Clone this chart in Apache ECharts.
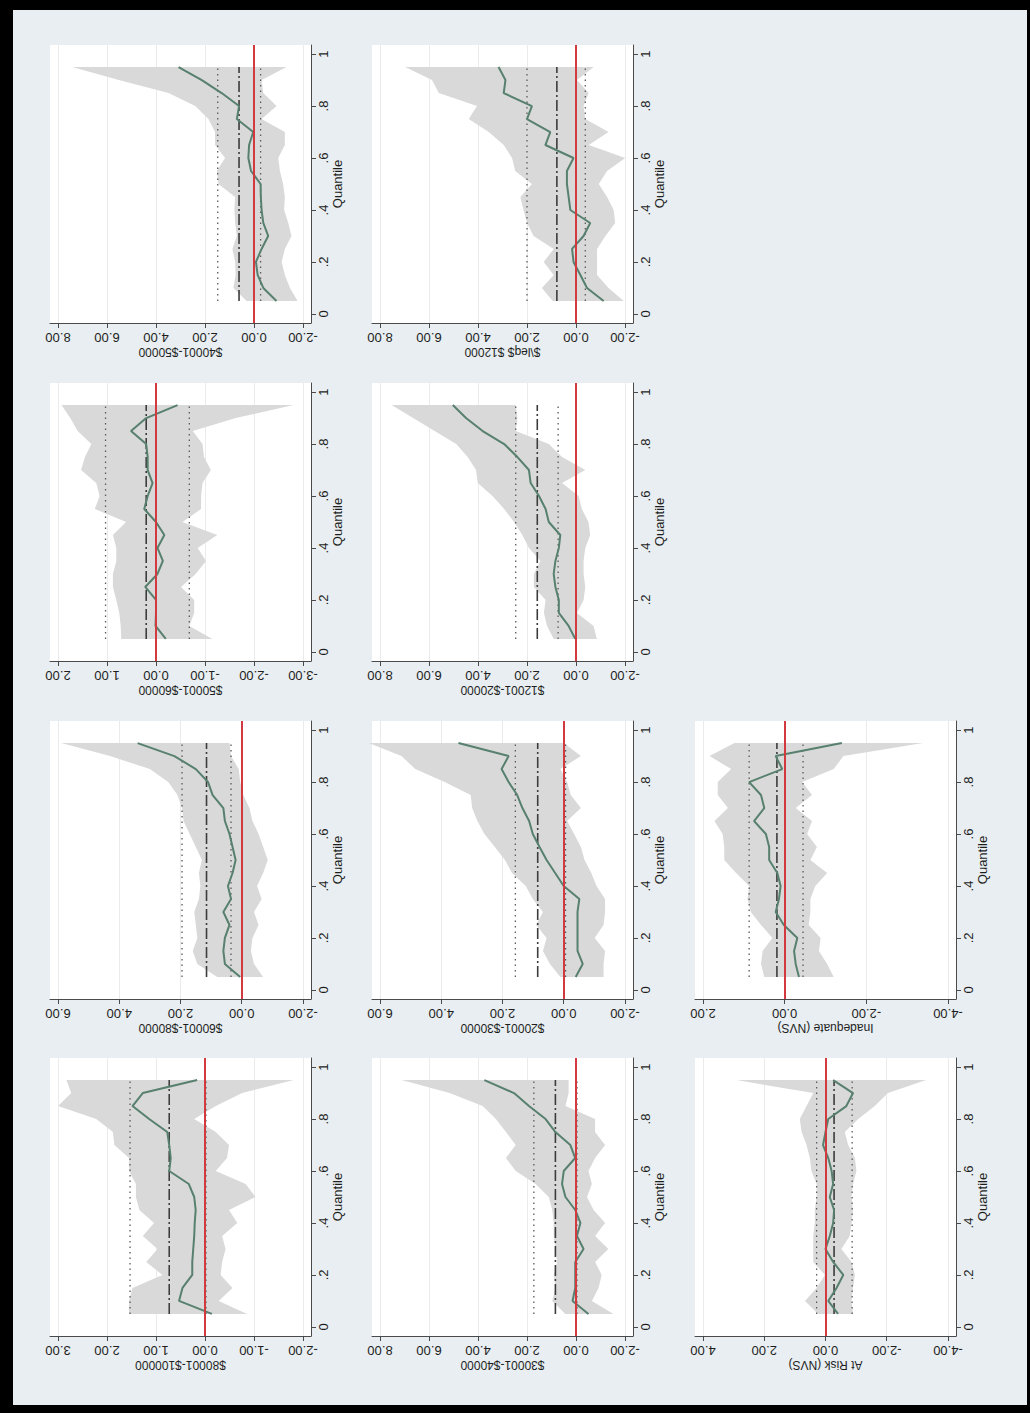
<!DOCTYPE html>
<html>
<head>
<meta charset="utf-8">
<script src="https://cdn.jsdelivr.net/npm/echarts@6/dist/echarts.min.js"></script>
<style>
  html, body { margin: 0; padding: 0; background: #000; }
  #chart { position: absolute; left: 13px; top: 10px; width: 1014px; height: 1395px; }
</style>
</head>
<body>
<div id="chart"></div>
<script>
// Quantile grid shared by every panel
const quantiles = [0.05, 0.10, 0.15, 0.20, 0.25, 0.30, 0.35, 0.40, 0.45, 0.50,
                   0.55, 0.60, 0.65, 0.70, 0.75, 0.80, 0.85, 0.90, 0.95];
const quantileTicks = [0, 0.2, 0.4, 0.6, 0.8, 1];
const zeroRef = 0;

// Coefficient estimates per income group: quantile estimate, 95% band, OLS [coef, upper, lower]
const est40050 = [-0.92, -0.38, -0.15, -0.08, -0.31, -0.58, -0.38, -0.31, -0.28, -0.27, 0.12, 0.23, 0.20, 0.03, 0.70, 0.61, 1.32, 2.13, 3.08];
const hi40050  = [0.30, 0.84, 0.75, 0.77, 0.88, 0.70, 0.77, 0.80, 0.77, 1.45, 1.52, 1.18, 1.59, 1.59, 1.86, 2.40, 3.49, 5.52, 7.42];
const lo40050  = [-1.78, -1.47, -1.26, -1.13, -1.26, -1.53, -1.40, -1.23, -1.26, -1.19, -1.06, -0.99, -1.26, -1.26, -0.31, -0.92, -0.38, -0.31, -1.33];
const ols40050 = [0.61, 1.48, -0.27];
const ticks40050 = [-2, 0, 2, 4, 6, 8];

const est50060 = [-0.20, 0.01, 0.00, 0.00, 0.22, -0.03, -0.14, -0.03, -0.17, 0.00, 0.24, 0.17, 0.07, 0.17, 0.17, 0.20, 0.51, 0.20, -0.44];
const hi50060  = [0.71, 0.72, 0.75, 0.81, 0.88, 0.88, 0.81, 0.81, 0.88, 0.61, 1.25, 1.15, 1.22, 1.53, 1.45, 1.32, 1.60, 1.75, 1.93];
const lo50060  = [-1.15, -0.68, -0.78, -0.78, -0.51, -0.81, -1.02, -0.85, -1.25, -0.54, -0.92, -0.92, -0.95, -1.12, -0.98, -0.95, -0.75, -1.63, -2.81];
const ols50060 = [0.20, 1.03, -0.68];
const ticks50060 = [-3, -2, -1, 0, 1, 2];

const est60080 = [0.05, 0.55, 0.60, 0.55, 0.40, 0.60, 0.35, 0.45, 0.30, 0.20, 0.30, 0.40, 0.55, 0.60, 0.95, 1.10, 1.50, 2.20, 3.40];
const hi60080  = [0.80, 1.45, 1.60, 1.45, 1.50, 1.55, 1.40, 1.35, 1.40, 1.30, 1.50, 1.70, 1.90, 1.95, 2.10, 2.40, 3.00, 4.30, 5.90];
const lo60080  = [-0.70, -0.40, -0.30, -0.35, -0.55, -0.40, -0.65, -0.50, -0.70, -0.85, -0.70, -0.55, -0.35, -0.25, -0.05, 0.05, 0.10, 0.35, 0.40];
const ols60080 = [1.15, 1.95, 0.35];
const ticks60080 = [-2, 0, 2, 4, 6];

const est80100 = [-0.14, 0.53, 0.46, 0.26, 0.26, 0.24, 0.22, 0.21, 0.19, 0.22, 0.33, 0.73, 0.70, 0.73, 0.77, 1.14, 1.48, 1.27, 0.16];
const hi80100  = [1.55, 1.55, 1.48, 0.87, 1.20, 0.97, 1.27, 1.04, 1.34, 1.41, 1.41, 1.55, 1.55, 1.85, 1.88, 2.22, 3.00, 2.73, 2.83];
const lo80100  = [-0.86, -0.28, -0.56, -0.32, -0.35, -0.42, -0.35, -0.66, -0.49, -1.03, -0.83, -0.22, -0.45, -0.49, -0.22, 0.22, -0.22, -0.76, -1.81];
const ols80100 = [0.73, 1.53, -0.02];
const ticks80100 = [-2, -1, 0, 1, 2, 3];

const estLe12 = [-1.13, -0.45, -0.18, 0.10, 0.16, -0.31, -0.58, 0.23, 0.30, 0.37, 0.37, 0.10, 1.25, 1.05, 2.00, 1.80, 2.95, 2.88, 3.16];
const hiLe12  = [0.95, 1.39, 0.91, 1.32, 0.91, 1.73, 2.00, 2.14, 2.27, 1.80, 2.48, 2.61, 2.95, 3.56, 4.38, 4.04, 5.60, 5.88, 6.97];
const loLe12  = [-1.95, -1.33, -0.86, -0.86, -0.86, -1.20, -1.60, -1.54, -1.27, -0.93, -1.27, -2.01, -0.52, -1.33, -0.38, -0.31, -0.52, -0.04, -0.72];
const olsLe12 = [0.78, 2.00, -0.38];
const ticksLe12 = [-2, 0, 2, 4, 6, 8];

const est12020 = [0.03, 0.30, 0.70, 0.70, 0.84, 0.91, 0.84, 0.70, 0.64, 1.11, 1.24, 1.51, 1.85, 1.92, 2.39, 2.93, 3.81, 4.49, 5.03];
const hi12020  = [0.91, 1.18, 1.31, 1.24, 1.72, 1.72, 1.45, 1.92, 2.19, 2.53, 2.93, 3.41, 4.01, 4.08, 4.42, 4.89, 5.77, 6.65, 7.53];
const lo12020  = [-0.85, -0.72, -0.04, -0.31, -0.38, -0.31, -0.31, -0.38, -0.58, -0.51, -0.24, -0.11, 0.57, -0.38, 0.57, 1.11, 2.46, 2.39, 2.46];
const ols12020 = [1.58, 2.46, 0.73];
const ticks12020 = [-2, 0, 2, 4, 6, 8];

const est20030 = [-0.39, -0.62, -0.45, -0.45, -0.45, -0.45, -0.51, 0.00, 0.28, 0.56, 0.79, 1.01, 1.13, 1.35, 1.52, 1.80, 2.03, 1.80, 3.44];
const hi20030  = [0.11, 0.45, 0.68, 0.56, 0.90, 0.68, 1.01, 1.24, 1.69, 1.92, 2.25, 2.59, 2.82, 2.99, 3.04, 3.89, 4.85, 5.30, 6.37];
const lo20030  = [-1.30, -1.30, -1.35, -1.01, -1.30, -1.35, -1.35, -1.07, -0.90, -0.68, -0.56, -0.34, -0.11, -0.56, -0.23, -0.11, 0.11, -0.56, 0.00];
const ols20030 = [0.85, 1.58, -0.06];
const ticks20030 = [-2, 0, 2, 4, 6];

const est30040 = [-0.51, 0.14, 0.03, 0.03, 0.03, -0.31, -0.04, -0.18, 0.03, 0.43, 0.57, 0.50, 0.03, 0.23, 0.84, 1.24, 1.92, 2.53, 3.74];
const hi30040  = [0.43, 0.97, 0.84, 0.91, 0.77, 0.84, 0.91, 0.91, 0.97, 1.11, 1.65, 2.46, 2.86, 2.46, 2.86, 3.27, 3.81, 5.16, 7.12];
const lo30040  = [-1.53, -0.65, -0.92, -1.05, -0.78, -1.32, -0.78, -1.19, -0.72, -0.45, -0.65, -0.51, -0.78, -1.19, -0.78, -0.78, 0.43, 0.30, 0.30];
const ols30040 = [0.84, 1.72, -0.04];
const ticks30040 = [-2, 0, 2, 4, 6, 8];

const estInadequate = [-0.35, -0.27, -0.23, -0.31, 0.02, 0.22, 0.14, 0.10, 0.18, 0.38, 0.38, 0.46, 0.75, 0.50, 0.58, 0.87, 0.06, 0.22, -1.40];
const hiInadequate  = [0.50, 0.58, 0.54, 0.30, 0.58, 0.83, 0.91, 0.87, 1.19, 1.48, 1.48, 1.52, 1.72, 1.39, 1.64, 1.64, 1.31, 1.84, 1.23];
const loInadequate  = [-1.20, -1.04, -0.84, -0.88, -0.59, -0.63, -0.63, -0.75, -1.04, -0.63, -0.79, -0.55, -0.67, -0.27, -0.67, -0.43, -1.20, -1.44, -3.39];
const olsInadequate = [0.19, 0.87, -0.45];
const ticksInadequate = [-4, -2, 0, 2];

const estAtRisk = [-0.41, -0.09, -0.36, -0.58, -0.25, 0.00, -0.14, -0.25, -0.28, -0.14, -0.25, -0.20, -0.09, 0.08, 0.00, -0.09, -0.68, -0.90, -0.25];
const hiAtRisk  = [0.24, 0.67, 0.29, 0.02, 0.40, 0.40, 0.40, 0.35, 0.35, 0.29, 0.29, 0.46, 0.51, 0.62, 0.78, 0.84, 0.62, 0.40, 2.90];
const loAtRisk  = [-0.90, -0.85, -0.90, -0.96, -0.85, -0.52, -0.79, -0.85, -0.90, -0.85, -0.90, -1.01, -0.96, -0.74, -0.63, -1.07, -1.61, -2.04, -3.29];
const olsAtRisk = [-0.28, 0.29, -0.87];
const ticksAtRisk = [-4, -2, 0, 2, 4];

// Panel titles and their slot in the combined figure (row, column)
const panels = [
  { title: '$40001-$50000',  row: 0, col: 0, est: est40050, hi: hi40050, lo: lo40050, ols: ols40050, ticks: ticks40050 },
  { title: '$\\leq$ $12000', row: 0, col: 1, est: estLe12,  hi: hiLe12,  lo: loLe12,  ols: olsLe12,  ticks: ticksLe12 },
  { title: '$50001-$60000',  row: 1, col: 0, est: est50060, hi: hi50060, lo: lo50060, ols: ols50060, ticks: ticks50060 },
  { title: '$12001-$20000',  row: 1, col: 1, est: est12020, hi: hi12020, lo: lo12020, ols: ols12020, ticks: ticks12020 },
  { title: '$60001-$80000',  row: 2, col: 0, est: est60080, hi: hi60080, lo: lo60080, ols: ols60080, ticks: ticks60080 },
  { title: '$20001-$30000',  row: 2, col: 1, est: est20030, hi: hi20030, lo: lo20030, ols: ols20030, ticks: ticks20030 },
  { title: 'Inadequate (NVS)', row: 2, col: 2, est: estInadequate, hi: hiInadequate, lo: loInadequate, ols: olsInadequate, ticks: ticksInadequate },
  { title: '$80001-$100000', row: 3, col: 0, est: est80100, hi: hi80100, lo: lo80100, ols: ols80100, ticks: ticks80100 },
  { title: '$30001-$40000',  row: 3, col: 1, est: est30040, hi: hi30040, lo: lo30040, ols: ols30040, ticks: ticks30040 },
  { title: 'At Risk (NVS)',  row: 3, col: 2, est: estAtRisk, hi: hiAtRisk, lo: loAtRisk, ols: olsAtRisk, ticks: ticksAtRisk }
];

// Layout of the plot regions
const colLeft = [37, 359, 682];
const rowTop = [35, 373, 711, 1048];
const plotW = 261, plotH = 278;
const valuePad = 8 / 244;     // plot-region margin beyond the outer ticks
const quantPad = 0.035;

const FONT = '"Liberation Sans", Arial, Helvetica, sans-serif';
const TEXT = '#1e1e1e';
const AXIS = '#4a4a4a';

const grids = [], xAxes = [], yAxes = [], series = [];

panels.forEach(function (p, k) {
  grids.push({
    left: colLeft[p.col], top: rowTop[p.row], width: plotW, height: plotH,
    show: true, backgroundColor: '#ffffff', borderWidth: 0
  });

  const tmin = p.ticks[0], tmax = p.ticks[p.ticks.length - 1];
  const pad = (tmax - tmin) * valuePad;

  xAxes.push({
    gridIndex: k, type: 'value', inverse: true, position: 'bottom',
    min: tmin - pad, max: tmax + pad,
    name: p.title, nameLocation: 'middle', nameRotate: 180, nameGap: 23,
    nameTextStyle: { fontFamily: FONT, fontSize: 12, color: TEXT },
    axisLine: { show: true, onZero: false, lineStyle: { color: AXIS, width: 1 } },
    axisTick: { show: true, length: 5, customValues: p.ticks, lineStyle: { color: AXIS } },
    axisLabel: {
      customValues: p.ticks, rotate: 180, margin: 8,
      fontFamily: FONT, fontSize: 13, color: TEXT,
      formatter: function (v) { return Number(v).toFixed(2); }
    },
    splitLine: { show: true, lineStyle: { color: '#ebebeb', width: 1 } }
  });

  yAxes.push({
    gridIndex: k, type: 'value', position: 'right',
    min: -quantPad, max: 1 + quantPad,
    name: 'Quantile', nameLocation: 'middle', nameRotate: 90, nameGap: 19,
    nameTextStyle: { fontFamily: FONT, fontSize: 13, color: TEXT },
    axisLine: { show: true, onZero: false, lineStyle: { color: AXIS, width: 1 } },
    axisTick: { show: true, length: 5, customValues: quantileTicks, lineStyle: { color: AXIS } },
    axisLabel: {
      customValues: quantileTicks, rotate: 90, margin: 6,
      fontFamily: FONT, fontSize: 13, color: TEXT,
      formatter: function (v) {
        if (v === 0 || v === 1) return String(v);
        return String(Number(v.toFixed(1))).replace(/^0/, '');
      }
    },
    splitLine: { show: false }
  });

  const hi = p.hi, lo = p.lo;

  // confidence band of the quantile estimates
  series.push({
    type: 'custom', xAxisIndex: k, yAxisIndex: k, silent: true, z: 1,
    data: quantiles.map(function (q, i) { return [lo[i], hi[i], q]; }),
    encode: { x: [0, 1], y: 2 },
    renderItem: function (params, api) {
      if (params.dataIndex !== 0) return null;
      const upper = quantiles.map(function (q, i) { return api.coord([hi[i], q]); });
      const lower = quantiles.map(function (q, i) { return api.coord([lo[i], q]); }).reverse();
      return {
        type: 'polygon',
        shape: { points: upper.concat(lower) },
        style: { fill: '#d9d9d9', stroke: null }
      };
    }
  });

  const qFirst = quantiles[0], qLast = quantiles[quantiles.length - 1];

  // OLS confidence limits (dotted)
  [p.ols[1], p.ols[2]].forEach(function (v) {
    series.push({
      type: 'line', xAxisIndex: k, yAxisIndex: k, silent: true, z: 2,
      symbol: 'none', data: [[v, qFirst], [v, qLast]],
      lineStyle: { color: '#5a5a5a', width: 1.3, type: [1.5, 4] }
    });
  });

  // OLS coefficient (long dash)
  series.push({
    type: 'line', xAxisIndex: k, yAxisIndex: k, silent: true, z: 2,
    symbol: 'none', data: [[p.ols[0], qFirst], [p.ols[0], qLast]],
    lineStyle: { color: '#3c3c3c', width: 1.6, type: [11, 3, 2, 3] },
    markLine: {
      silent: true, symbol: 'none', label: { show: false },
      lineStyle: { color: '#d23a3f', width: 2, type: 'solid' },
      data: [{ xAxis: zeroRef }]
    }
  });

  // quantile regression estimate
  series.push({
    type: 'line', xAxisIndex: k, yAxisIndex: k, silent: true, z: 3,
    symbol: 'none',
    data: quantiles.map(function (q, i) { return [p.est[i], q]; }),
    lineStyle: { color: '#57806e', width: 2 }
  });
});

const chart = echarts.init(document.getElementById('chart'), null, { renderer: 'svg' });
chart.setOption({
  backgroundColor: '#e8eef1',
  animation: false,
  grid: grids,
  xAxis: xAxes,
  yAxis: yAxes,
  series: series
});
</script>
</body>
</html>
